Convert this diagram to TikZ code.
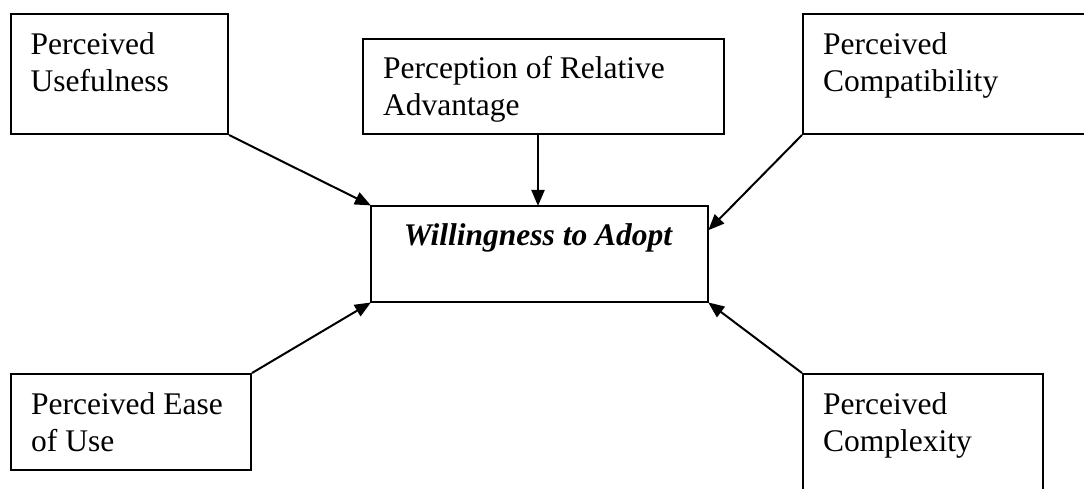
\documentclass[tikz,border=0pt]{standalone}
\usepackage{fontspec}
\setmainfont{Liberation Serif}
\usetikzlibrary{arrows.meta,calc}
\tikzset{
  box/.style={draw=black, line width=2pt, rectangle, inner sep=0pt, anchor=north west},
  txt/.style={inner sep=0pt, anchor=north west, align=left, font=\fontsize{31.5}{37}\selectfont},
  arr/.style={draw=black, line width=2pt, -{Triangle[length=16pt,width=13pt]}, shorten >=-1pt}
}
\begin{document}
\begin{tikzpicture}[x=1pt,y=-1pt]
\clip (0,0) rectangle (1084,489);
\fill[white] (0,0) rectangle (1084,489);
% boxes
\node[box, minimum width=217pt, minimum height=120pt] (pu) at (10,13) {};
\node[box, minimum width=361pt, minimum height=95pt] (ra) at (362,38) {};
\node[box, minimum width=300pt, minimum height=120pt] (pc) at (802,13) {};
\node[box, minimum width=337pt, minimum height=96pt] (wa) at (370,205) {};
\node[box, minimum width=240pt, minimum height=96pt] (pe) at (10,373) {};
\node[box, minimum width=240pt, minimum height=140pt] (px) at (802,373) {};
% texts
\node[txt] (tpu) at (30.5,32.6) {Perceived\\Usefulness};
\node[txt] (tra) at (383,56) {Perception of Relative\\Advantage};
\node[txt] (tpc) at (823,32.6) {Perceived\\Compatibility};
\node[txt] (tpe) at (31,392.6) {Perceived Ease\\of Use};
\node[txt] (tpx) at (823,392.6) {Perceived\\Complexity};
\node[inner sep=0pt, anchor=base, font=\fontsize{31.5}{37}\selectfont\bfseries\itshape] (twa) at (538,245.5) {Willingness to Adopt};
% connectors
\coordinate (wae) at ($(wa.north east)!0.25!(wa.south east)$);
\draw[arr] (pu.south east) -- (wa.north west);
\draw[arr] (ra.south -| twa.base) -- (wa.north -| twa.base);
\draw[arr] (pc.south west) -- (wae);
\draw[arr] (pe.north east) -- (wa.south west);
\draw[arr] (px.north west) -- (wa.south east);
\end{tikzpicture}
\end{document}
